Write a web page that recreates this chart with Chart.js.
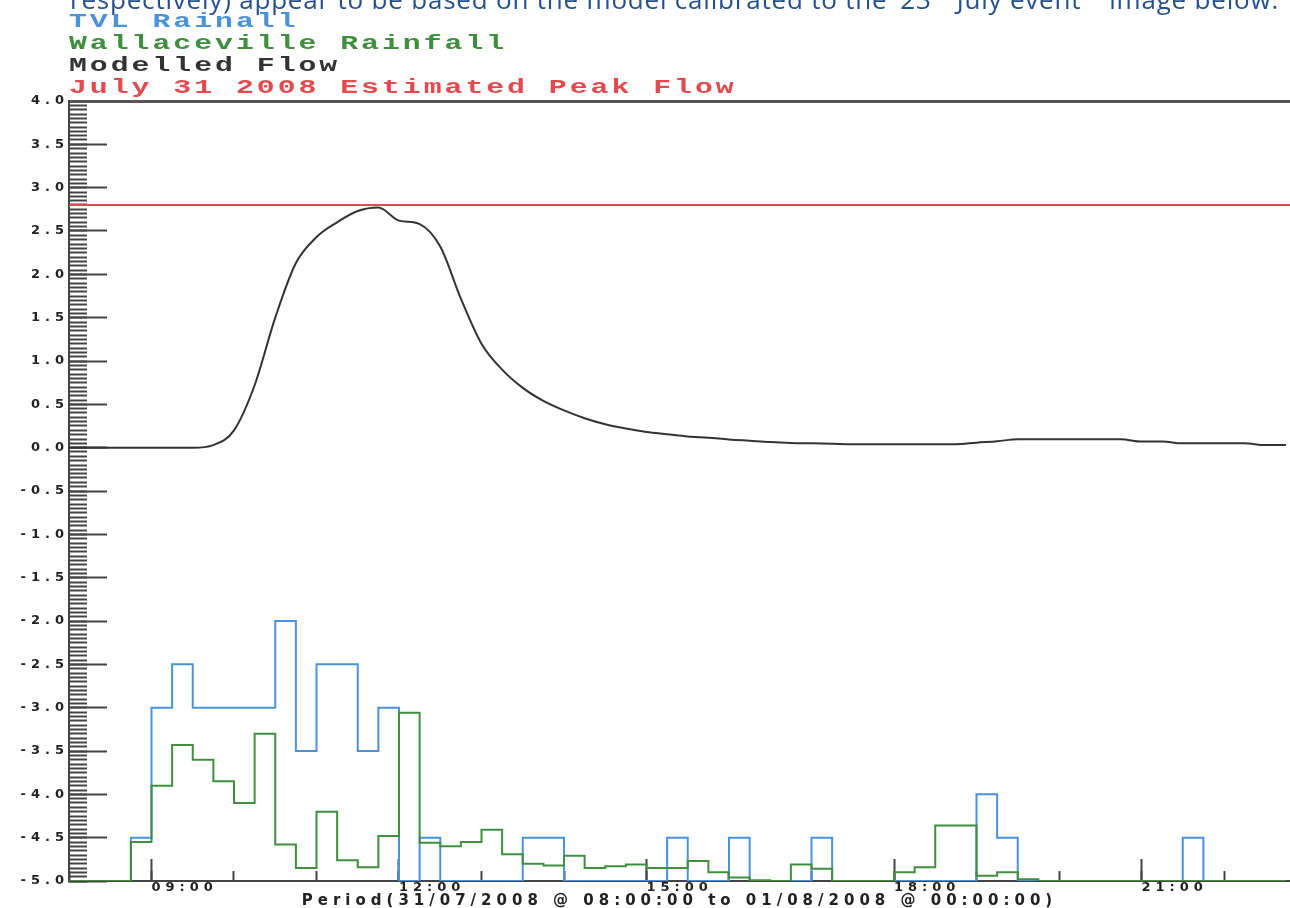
<!DOCTYPE html>
<html>
<head>
<meta charset="utf-8">
<script src="https://cdn.jsdelivr.net/npm/chart.js"></script>
<style>
body { margin: 0; background: #fff; overflow: hidden; }
#wrap { position: relative; width: 1290px; height: 908px; overflow: hidden; }
#chart { position: absolute; left: 0; top: 0; }
#note {
  position: absolute; left: 70px; top: -14px; white-space: nowrap;
  font: 26px "Open Sans"; line-height: 26px; letter-spacing: 0.8px; color: #24508f;
}
#note .sup { position: relative; top: -0.6em; font-size: 0.6em; }
#legend { position: absolute; left: 69px; top: 11px; }
#legend div {
  font: bold 20px "Liberation Mono"; line-height: 22px; letter-spacing: 2px;
  white-space: nowrap; transform: scaleX(1.49); transform-origin: left center;
}
</style>
</head>
<body>
<div id="wrap">
  <canvas id="chart" width="1290" height="908"></canvas>
  <div id="note">respectively) appear to be based on the model calibrated to the &lsquo;23<span class="sup">rd</span> July event&rsquo;&nbsp;&nbsp; image below.</div>
  <div id="legend"></div>
</div>
<script>
// 15 minute steps, hours since midnight 31/07/2008
const times = [
  8, 8.25, 8.5, 8.75, 9, 9.25, 9.5, 9.75, 10, 10.25, 10.5, 10.75,
  11, 11.25, 11.5, 11.75, 12, 12.25, 12.5, 12.75, 13, 13.25, 13.5, 13.75,
  14, 14.25, 14.5, 14.75, 15, 15.25, 15.5, 15.75, 16, 16.25, 16.5, 16.75,
  17, 17.25, 17.5, 17.75, 18, 18.25, 18.5, 18.75, 19, 19.25, 19.5, 19.75,
  20, 20.25, 20.5, 20.75, 21, 21.25, 21.5, 21.75, 22, 22.25, 22.5, 22.75
];

// rainfall is plotted upward from the -5.0 baseline
const tvlRain = [
  -5, -5, -5, -4.5, -3.0, -2.5, -3.0, -3.0, -3.0, -3.0, -2.0, -3.5,
  -2.5, -2.5, -3.5, -3.0, -5, -4.5, -5, -5, -5, -5, -4.5, -4.5,
  -5, -5, -5, -5, -5, -4.5, -5, -5, -4.5, -5, -5, -5,
  -4.5, -5, -5, -5, -5, -5, -5, -5, -4.0, -4.5, -5, -5,
  -5, -5, -5, -5, -5, -5, -4.5, -5, -5, -5, -5, -5
];

const wallacevilleRain = [
  -5, -5, -5, -4.55, -3.9, -3.43, -3.6, -3.85, -4.1, -3.3, -4.58, -4.85,
  -4.2, -4.76, -4.84, -4.48, -3.06, -4.56, -4.6, -4.55, -4.41, -4.69, -4.8, -4.82,
  -4.71, -4.85, -4.83, -4.81, -4.85, -4.85, -4.77, -4.9, -4.96, -4.99, -5, -4.81,
  -4.86, -5, -5, -5, -4.9, -4.84, -4.36, -4.36, -4.94, -4.9, -4.98, -5,
  -5, -5, -5, -5, -5, -5, -5, -5, -5, -5, -5, -5
];

const modelledFlow = [
  0, 0, 0, 0, 0, 0, 0, 0.03, 0.2, 0.72, 1.5, 2.13,
  2.43, 2.6, 2.73, 2.77, 2.62, 2.58, 2.32, 1.72, 1.2, 0.9, 0.69, 0.54,
  0.43, 0.34, 0.27, 0.22, 0.18, 0.155, 0.13, 0.115, 0.095, 0.08, 0.065, 0.055,
  0.05, 0.045, 0.04, 0.04, 0.04, 0.04, 0.04, 0.04, 0.058, 0.074, 0.097, 0.097,
  0.097, 0.097, 0.097, 0.097, 0.07, 0.07, 0.05, 0.05, 0.05, 0.05, 0.03, 0.03
];

const peakFlow = 2.8;

const seriesNames = ['TVL Rainall', 'Wallaceville Rainfall', 'Modelled Flow', 'July 31 2008 Estimated Peak Flow'];
const seriesColors = ['#4a92dc', '#3f8f3f', '#333333', '#e5484d'];

const yTickValues = [-5, -4.5, -4, -3.5, -3, -2.5, -2, -1.5, -1, -0.5, 0, 0.5, 1, 1.5, 2, 2.5, 3, 3.5, 4];
const xTickHours = [9, 12, 15, 18, 21];
const xMinorHours = [8, 9, 10, 11, 12, 13, 14, 15, 16, 17, 18, 19, 20, 21, 22];
const xTitle = 'Period(31/07/2008 @ 08:00:00 to 01/08/2008 @ 00:00:00)';

const X_MIN = 8, X_MAX = 22.8, Y_MIN = -5, Y_MAX = 4;

// fine ladder of ticks along the y axis, every 0.05
const yMinorValues = [];
for (let i = Y_MIN * 20; i <= Y_MAX * 20; i++) yMinorValues.push(i / 20);

// legend as text lines above the plot
const legend = document.getElementById('legend');
seriesNames.forEach((name, i) => {
  const d = document.createElement('div');
  d.textContent = name;
  d.style.color = seriesColors[i];
  legend.appendChild(d);
});

const tickFont = { family: 'DejaVu Sans', weight: 'bold', size: 13 };

const spacing = {
  id: 'spacing',
  beforeDraw(chart) { chart.ctx.letterSpacing = '5px'; },
  afterDraw(chart) { chart.ctx.letterSpacing = '0px'; }
};

function series(values) {
  return times.map((t, i) => ({ x: t, y: values[i] }));
}

new Chart(document.getElementById('chart'), {
  type: 'line',
  data: {
    datasets: [
      {
        label: seriesNames[1], data: series(wallacevilleRain),
        borderColor: seriesColors[1], borderWidth: 2, stepped: 'before', pointRadius: 0
      },
      {
        label: seriesNames[0], data: series(tvlRain),
        borderColor: seriesColors[0], borderWidth: 2, stepped: 'before', pointRadius: 0
      },
      {
        label: seriesNames[2], data: series(modelledFlow),
        borderColor: seriesColors[2], borderWidth: 2, cubicInterpolationMode: 'monotone', pointRadius: 0
      },
      {
        label: seriesNames[3], data: [{ x: X_MIN, y: peakFlow }, { x: X_MAX, y: peakFlow }],
        borderColor: seriesColors[3], borderWidth: 2, pointRadius: 0
      }
    ]
  },
  options: {
    responsive: false,
    animation: false,
    layout: { padding: { top: 101, left: 0, right: 0, bottom: 0 } },
    plugins: { legend: { display: false }, tooltip: { enabled: false } },
    scales: {
      x: {
        type: 'linear', position: 'bottom', weight: 1, min: X_MIN, max: X_MAX,
        afterBuildTicks: s => { s.ticks = xTickHours.map(v => ({ value: v })); },
        afterFit: s => { s.height = 27; s.paddingLeft = 0; s.paddingRight = 0; },
        ticks: {
          callback: v => String(v).padStart(2, '0') + ':00',
          align: 'start', padding: 21, maxRotation: 0, autoSkip: false,
          color: '#222', font: tickFont
        },
        grid: { drawOnChartArea: false, tickLength: -22, tickColor: '#444', tickWidth: 2 },
        border: { display: true, color: '#444', width: 2 },
        title: {
          display: true, text: xTitle, color: '#222',
          font: { family: 'DejaVu Sans', weight: 'bold', size: 15 }, padding: { top: 0, bottom: -2 }
        }
      },
      xMinor: {
        type: 'linear', position: 'bottom', weight: 0, min: X_MIN, max: X_MAX,
        afterBuildTicks: s => { s.ticks = xMinorHours.map(v => ({ value: v })); },
        afterFit: s => { s.height = 0; s.paddingLeft = 0; s.paddingRight = 0; },
        ticks: { display: false },
        grid: { drawOnChartArea: false, tickLength: -10, tickColor: '#444', tickWidth: 2 },
        border: { display: false }
      },
      xTop: {
        type: 'linear', position: 'top', min: X_MIN, max: X_MAX,
        afterFit: s => { s.height = 0; s.paddingLeft = 0; s.paddingRight = 0; },
        ticks: { display: false },
        grid: { display: false },
        border: { display: true, color: '#555', width: 3 }
      },
      y: {
        type: 'linear', position: 'left', weight: 1, min: Y_MIN, max: Y_MAX,
        afterBuildTicks: s => { s.ticks = yTickValues.map(v => ({ value: v })); },
        afterFit: s => { s.width = 69; s.paddingTop = 0; s.paddingBottom = 0; },
        ticks: {
          callback: v => Number(v).toFixed(1), padding: 38, autoSkip: false,
          color: '#222', font: tickFont
        },
        grid: { drawOnChartArea: false, tickLength: -38, tickColor: '#444', tickWidth: 2 },
        border: { display: true, color: '#444', width: 2 }
      },
      yMinor: {
        type: 'linear', position: 'left', weight: 0, min: Y_MIN, max: Y_MAX,
        afterBuildTicks: s => { s.ticks = yMinorValues.map(v => ({ value: v })); },
        afterFit: s => { s.width = 0; s.paddingTop = 0; s.paddingBottom = 0; },
        ticks: { display: false },
        grid: { drawOnChartArea: false, tickLength: -18, tickColor: '#444', tickWidth: 2 },
        border: { display: false }
      }
    }
  },
  plugins: [spacing]
});
</script>
</body>
</html>
